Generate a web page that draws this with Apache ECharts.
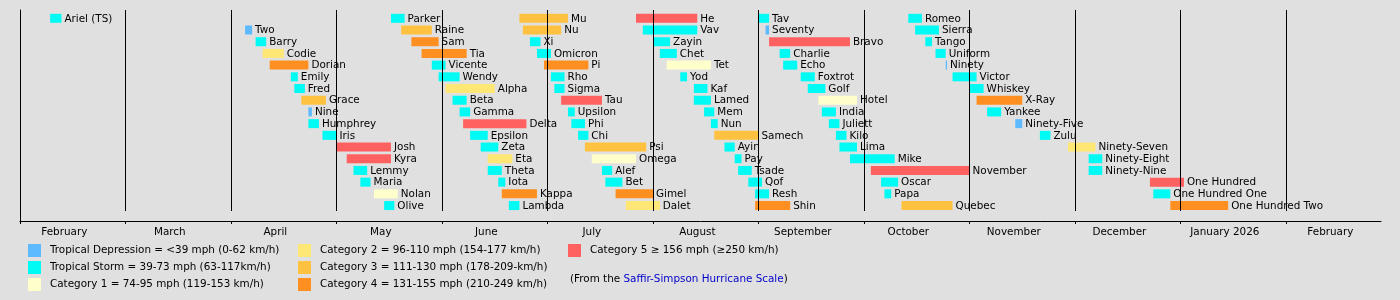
<!DOCTYPE html>
<html><head><meta charset="utf-8">
<script src="https://cdn.jsdelivr.net/npm/echarts@6/dist/echarts.min.js"></script>
<style>html,body{margin:0;padding:0;background:#e0e0e0}#c{width:1400px;height:300px}</style>
</head><body><div id="c"></div>
<script>
const monthLabels = ["February","March","April","May","June","July","August","September","October","November","December","January 2026","February"];

const catLabels = [
  "Tropical Depression = <39 mph (0-62 km/h)",
  "Tropical Storm = 39-73 mph (63-117km/h)",
  "Category 1 = 74-95 mph (119-153 km/h)",
  "Category 2 = 96-110 mph (154-177 km/h)",
  "Category 3 = 111-130 mph (178-209-km/h)",
  "Category 4 = 131-155 mph (210-249 km/h)",
  "Category 5 \u2265 156 mph (\u2265250 km/h)"
];
const catColors = ["#5ebaff","#00faf4","#ffffcc","#ffe775","#ffc140","#ff8f20","#ff6060"];
const noteText = ["(From the ", "Saffir-Simpson Hurricane Scale", ")"];

const names = [
 "Ariel (TS)","Two","Barry","Codie","Dorian","Emily","Fred","Grace","Nine","Humphrey","Iris","Josh","Kyra","Lemmy","Maria","Nolan","Olive",
 "Parker","Raine","Sam","Tia","Vicente","Wendy","Alpha","Beta","Gamma","Delta","Epsilon","Zeta","Eta","Theta","Iota","Kappa","Lambda",
 "Mu","Nu","Xi","Omicron","Pi","Rho","Sigma","Tau","Upsilon","Phi","Chi","Psi","Omega","Alef","Bet","Gimel","Dalet",
 "He","Vav","Zayin","Chet","Tet","Yod","Kaf","Lamed","Mem","Nun","Samech","Ayin","Pay","Tsade","Qof","Resh","Shin",
 "Tav","Seventy","Bravo","Charlie","Echo","Foxtrot","Golf","Hotel","India","Juliett","Kilo","Lima","Mike","November","Oscar","Papa","Quebec",
 "Romeo","Sierra","Tango","Uniform","Ninety","Victor","Whiskey","X-Ray","Yankee","Ninety-Five","Zulu","Ninety-Seven","Ninety-Eight","Ninety-Nine","One Hundred","One Hundred One","One Hundred Two"
];
const starts = [
 "2025-02-09","2025-04-05","2025-04-08","2025-04-10","2025-04-12","2025-04-18","2025-04-19","2025-04-21","2025-04-23","2025-04-23","2025-04-27","2025-05-01","2025-05-04","2025-05-06","2025-05-08","2025-05-12","2025-05-15",
 "2025-05-17","2025-05-20","2025-05-23","2025-05-26","2025-05-29","2025-05-31","2025-06-02","2025-06-04","2025-06-06","2025-06-07","2025-06-09","2025-06-12","2025-06-14","2025-06-14","2025-06-17","2025-06-18","2025-06-20",
 "2025-06-23","2025-06-24","2025-06-26","2025-06-28","2025-06-30","2025-07-02","2025-07-03","2025-07-05","2025-07-07","2025-07-08","2025-07-10","2025-07-12","2025-07-14","2025-07-17","2025-07-18","2025-07-21","2025-07-24",
 "2025-07-27","2025-07-29","2025-08-01","2025-08-03","2025-08-05","2025-08-09","2025-08-13","2025-08-13","2025-08-16","2025-08-18","2025-08-19","2025-08-22","2025-08-25","2025-08-26","2025-08-29","2025-08-31","2025-08-31",
 "2025-09-01","2025-09-03","2025-09-04","2025-09-07","2025-09-08","2025-09-13","2025-09-15","2025-09-18","2025-09-19","2025-09-21","2025-09-23","2025-09-24","2025-09-27","2025-10-03","2025-10-06","2025-10-07","2025-10-12",
 "2025-10-14","2025-10-16","2025-10-19","2025-10-22","2025-10-25","2025-10-27","2025-11-01","2025-11-03","2025-11-06","2025-11-14","2025-11-21","2025-11-29","2025-12-05","2025-12-05","2025-12-23","2025-12-24","2025-12-29"
];
const ends = [
 "2025-02-12","2025-04-07","2025-04-11","2025-04-16","2025-04-23","2025-04-20","2025-04-22","2025-04-28","2025-04-24","2025-04-26","2025-05-01","2025-05-17","2025-05-17","2025-05-10","2025-05-11","2025-05-19","2025-05-18",
 "2025-05-21","2025-05-29","2025-05-31","2025-06-08","2025-06-02","2025-06-06","2025-06-16","2025-06-08","2025-06-09","2025-06-25","2025-06-14","2025-06-17","2025-06-21","2025-06-18","2025-06-19","2025-06-28","2025-06-23",
 "2025-07-07","2025-07-05","2025-06-29","2025-07-02","2025-07-13","2025-07-06","2025-07-06","2025-07-17","2025-07-09","2025-07-12","2025-07-13","2025-07-30","2025-07-27","2025-07-20","2025-07-23","2025-08-01","2025-08-03",
 "2025-08-14","2025-08-14","2025-08-06","2025-08-08","2025-08-18","2025-08-11","2025-08-17","2025-08-18","2025-08-19","2025-08-20","2025-09-01","2025-08-25","2025-08-27","2025-08-30","2025-09-02","2025-09-04","2025-09-10",
 "2025-09-04","2025-09-04","2025-09-27","2025-09-10","2025-09-12","2025-09-17","2025-09-20","2025-09-29","2025-09-23","2025-09-24","2025-09-26","2025-09-29","2025-10-10","2025-11-01","2025-10-11","2025-10-09","2025-10-27",
 "2025-10-18","2025-10-23","2025-10-21","2025-10-25","2025-10-25","2025-11-03","2025-11-05","2025-11-16","2025-11-10","2025-11-16","2025-11-24","2025-12-07","2025-12-09","2025-12-09","2026-01-02","2025-12-29","2026-01-15"
];
// 0=TD 1=TS 2=C1 3=C2 4=C3 5=C4 6=C5
const cats = [
 1,0,1,3,5,1,1,4,0,1,1,6,6,1,1,2,1,
 1,4,5,5,1,1,3,1,1,6,1,1,3,1,1,5,1,
 4,4,1,1,5,1,1,6,1,1,1,4,2,1,1,5,3,
 6,1,1,1,2,1,1,1,1,1,4,1,1,1,1,1,5,
 1,0,6,1,1,1,1,2,1,1,1,1,1,6,1,1,4,
 1,1,1,1,0,1,1,5,1,0,1,3,1,1,6,1,5
];
const ROWS = 17;

function monthPos(s){
  const p = s.split('-').map(Number);
  const idx = (p[0]-2025)*12 + (p[1]-2);
  const dim = new Date(p[0], p[1], 0).getDate();
  return idx + (p[2]-1)/dim;
}

const Y_MIN = -0.71, Y_MAX = 17.32, GRID_LINE_END = 16.47;
const FS = 10.4;
const FONT = FS + 'px "DejaVu Sans"';

const series = catLabels.map((lab, c) => ({
  type: 'custom',
  name: lab,
  itemStyle: {color: catColors[c]},
  z: 2,
  encode: {x: [0,1], y: 2},
  data: names.map((n,i)=>i).filter(i=>cats[i]===c).map(i=>[monthPos(starts[i]), monthPos(ends[i]), i % ROWS, i]),
  renderItem: function(params, api){
    const a = api.coord([api.value(0), api.value(2)]);
    const b = api.coord([api.value(1), api.value(2)]);
    const h = 9;
    const x1 = a[0], x2 = Math.max(b[0], a[0]+1.3);
    return {type:'group', children:[
      {type:'rect', shape:{x:x1, y:a[1]-h/2, width:x2-x1, height:h}, style:{fill:catColors[c]}},
      {type:'text', style:{x:x2+3, y:a[1]+0.5, text:names[api.value(3)], fill:'#000', font:FONT, verticalAlign:'middle', align:'left'}}
    ]};
  }
}));

series.push({
  type:'custom', name:'grid', silent:true, z:5,
  data: monthLabels.slice(1).map((_,i)=>[i+1]),
  encode:{x:0},
  renderItem: function(params, api){
    const p1 = api.coord([api.value(0), Y_MIN]);
    const p2 = api.coord([api.value(0), GRID_LINE_END]);
    const x = Math.floor(p1[0]) + 0.5;
    return {type:'line', shape:{x1:x, y1:p1[1], x2:x, y2:Math.round(p2[1])}, style:{stroke:'#000', lineWidth:1}};
  }
});

const legendBase = {orient:'vertical', top:244, padding:0, itemGap:4, itemWidth:13, itemHeight:13, icon:'rect', selectedMode:false,
  textStyle:{color:'#000', fontSize:FS, fontFamily:'DejaVu Sans', padding:[0,0,0,4]}};

const chart = echarts.init(document.getElementById('c'), null, {renderer:'canvas'});
chart.setOption({
  backgroundColor:'#e0e0e0',
  animation:false,
  grid:{left:20, right:19, top:10, bottom:79},
  xAxis:{type:'value', min:0, max:12.9,
    axisLine:{show:true, onZero:false, lineStyle:{color:'#000', width:1}},
    axisTick:{show:true, length:3, lineStyle:{color:'#000'}, customValues: monthLabels.map((_,i)=>i)},
    axisLabel:{show:true, color:'#000', fontSize:FS, fontFamily:'DejaVu Sans', margin:6,
      customValues: monthLabels.map((_,i)=>i+0.42),
      formatter: v => monthLabels[Math.round(v-0.42)] || ''},
    splitLine:{show:false}},
  yAxis:{type:'value', inverse:true, min:Y_MIN, max:Y_MAX,
    axisLine:{show:true, onZero:false, lineStyle:{color:'#000', width:1}},
    axisTick:{show:false}, axisLabel:{show:false}, splitLine:{show:false}},
  legend:[
    Object.assign({}, legendBase, {left:28, data:catLabels.slice(0,3)}),
    Object.assign({}, legendBase, {left:298, data:catLabels.slice(3,6)}),
    Object.assign({}, legendBase, {left:568, data:catLabels.slice(6,7)})
  ],
  title:{left:570, top:273, padding:0,
    text:'{a|'+noteText[0]+'}{b|'+noteText[1]+'}{a|'+noteText[2]+'}',
    textStyle:{fontWeight:'normal', rich:{
      a:{color:'#000', fontSize:FS, fontWeight:'normal', fontFamily:'DejaVu Sans', lineHeight:12},
      b:{color:'#0000cc', fontSize:FS, fontWeight:'normal', fontFamily:'DejaVu Sans', lineHeight:12}}}},
  series: series
});
</script></body></html>
